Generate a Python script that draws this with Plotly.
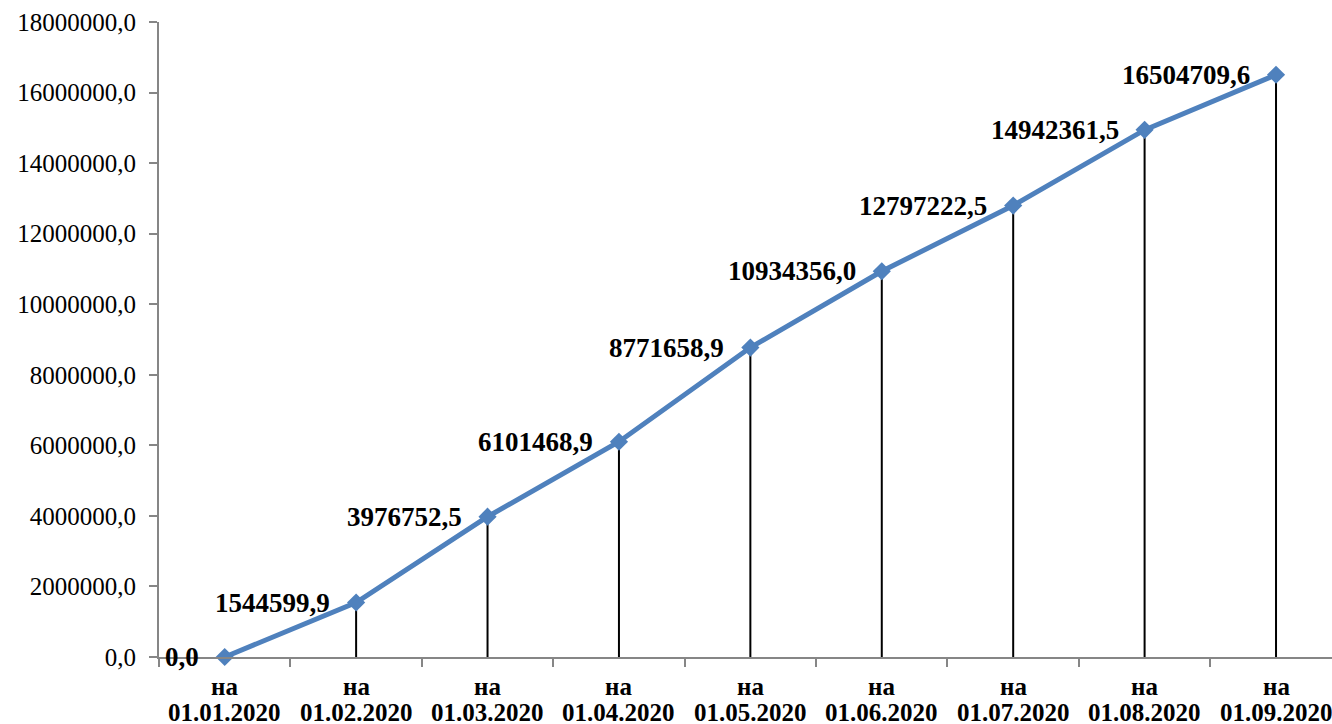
import plotly.graph_objects as go

categories = ["01.01.2020", "01.02.2020", "01.03.2020", "01.04.2020", "01.05.2020",
              "01.06.2020", "01.07.2020", "01.08.2020", "01.09.2020"]
prefix = "на"
values = [0.0, 1544599.9, 3976752.5, 6101468.9, 8771658.9, 10934356.0, 12797222.5, 14942361.5, 16504709.6]
labels = ["0,0", "1544599,9", "3976752,5", "6101468,9", "8771658,9", "10934356,0",
          "12797222,5", "14942361,5", "16504709,6"]
y_ticks = [0, 2000000, 4000000, 6000000, 8000000, 10000000, 12000000, 14000000, 16000000, 18000000]

FONT = "Liberation Serif"

fig = go.Figure()

# drop lines from axis to each point
dx, dy = [], []
for c, v in zip(categories, values):
    if v > 0:
        dx += [c, c, None]
        dy += [0, v, None]
fig.add_trace(go.Scatter(x=dx, y=dy, mode="lines", line=dict(color="black", width=2),
                         hoverinfo="skip", showlegend=False))

fig.add_trace(go.Scatter(x=categories, y=values, mode="lines+markers",
                         line=dict(color="#4F81BD", width=5),
                         marker=dict(symbol="diamond", size=14, color="#4F81BD"),
                         showlegend=False, cliponaxis=False))

for c, v, t in zip(categories, values, labels):
    fig.add_annotation(x=c, y=v, text=t, showarrow=False, xanchor="right", yanchor="middle",
                       xshift=-24, font=dict(family=FONT, size=27, color="black", weight="bold"))

# two-line category labels with tighter line spacing than plotly's tick labels
for c in categories:
    fig.add_annotation(x=c, y=0, yref="paper", text=prefix, showarrow=False,
                       xanchor="center", yanchor="middle", yshift=-29,
                       font=dict(family=FONT, size=25, color="black", weight="bold"))
    fig.add_annotation(x=c, y=0, yref="paper", text=c, showarrow=False,
                       xanchor="center", yanchor="middle", yshift=-55,
                       font=dict(family=FONT, size=25, color="black", weight="bold"))

fig.update_layout(
    width=1332, height=724,
    margin=dict(l=159, r=0, t=22, b=67, autoexpand=False),
    paper_bgcolor="white", plot_bgcolor="white",
    separators=", ",
    font=dict(family=FONT, color="black"),
)
fig.update_xaxes(
    type="category", categoryorder="array", categoryarray=categories,
    range=[-0.5, 8.426], tickson="boundaries", automargin=False, showticklabels=False,
    ticks="outside", ticklen=8, tickwidth=2, tickcolor="#868686",
    showline=True, linecolor="#868686", linewidth=2, showgrid=False,
)
fig.update_yaxes(
    range=[0, 18000000], tickvals=y_ticks, tickformat=".1f", automargin=False,
    ticks="outside", ticklen=8, tickwidth=2, tickcolor="#868686", ticklabelstandoff=8,
    showline=True, linecolor="#868686", linewidth=2, showgrid=False, zeroline=False,
    tickfont=dict(family=FONT, size=25, color="black"),
)

fig.write_html("out.html", config={"displayModeBar": False},
               post_script="document.body.style.margin='0';document.body.style.overflow='hidden';")
